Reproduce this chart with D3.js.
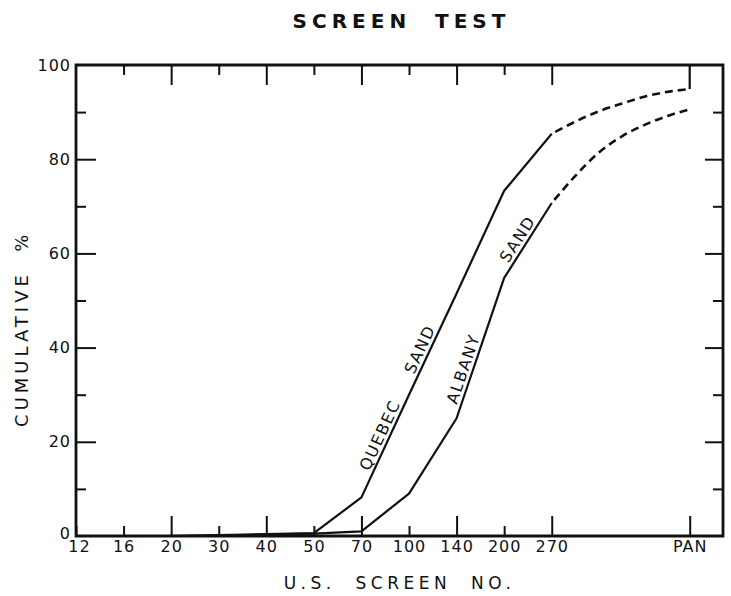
<!DOCTYPE html>
<html>
<head>
<meta charset="utf-8">
<script src="https://cdn.jsdelivr.net/npm/d3@7"></script>
<style>
  body { margin: 0; background: #fff; }
  text { font-family: "DejaVu Sans", sans-serif; fill: #111; }
</style>
</head>
<body>
<script>
// screen sizes along the bottom (PAN sits apart at the right)
const screens = ["12", "16", "20", "30", "40", "50", "70", "100", "140", "200", "270", "PAN"];
const longTicks = ["20", "40", "70", "140", "270", "PAN"];
const pctTicks = [0, 20, 40, 60, 80, 100];
const pctMinor = [10, 30, 50, 70, 90];

// cumulative % on screens 12 .. 270 (solid part)
const quebecPct = [0, 0, 0, 0.2, 0.4, 0.6, 8.2, 30, 51.5, 73.3, 85.4];
const albanyPct = [0, 0, 0, 0.1, 0.3, 0.5, 1.0, 9, 25, 54.8, 70.7];

// dashed tails between 270 and PAN, read as [screen index, %]
const quebecTail = [[10, 85.4], [10.5, 88], [11, 90.2], [11.5, 91.9], [12, 93.4], [12.5, 94.4], [12.9, 94.9]];
const albanyTail = [[10, 70.7], [10.5, 76.5], [11, 81.5], [11.5, 85], [12, 87.5], [12.5, 89.4], [12.9, 90.6]];
const quebecPan = [[12.9, 94.9], [12.9, 100]];

// line labels: text, series, segment between two screen indexes, fraction along it
const lineLabels = [
  {text: "QUEBEC", pts: quebecPct, from: 6, to: 9, t: 0.19},
  {text: "SAND",   pts: quebecPct, from: 6, to: 9, t: 0.47},
  {text: "ALBANY", pts: albanyPct, from: 8, to: 9, t: 0.33},
  {text: "SAND",   pts: albanyPct, from: 9, to: 10, t: 0.45}
];

const W = 731, H = 596;
const margin = {top: 65, left: 76, right: 8, bottom: 60};
const panIndex = 12.9;
const xMax = 13.6;

const svg = d3.select("body").append("svg")
  .attr("width", W).attr("height", H);

const x = d3.scaleLinear().domain([0, xMax]).range([margin.left, W - margin.right]);
const y = d3.scaleLinear().domain([0, 100]).range([H - margin.bottom, margin.top]);
const bottomY = y(0), topY = y(100);

function screenIdx(s) {
  return s === "PAN" ? panIndex : screens.indexOf(s);
}

// title
svg.append("text")
  .attr("x", (x(0) + x(xMax)) / 2 + 2).attr("y", 28)
  .attr("text-anchor", "middle")
  .style("font-size", "20px").style("font-weight", "bold")
  .style("letter-spacing", "5px").attr("xml:space", "preserve")
  .text("SCREEN  TEST");

// x axis at bottom, ticks pointing up
const xAxis = d3.axisBottom(x)
  .tickValues(screens.map(screenIdx))
  .tickFormat((d, i) => screens[i])
  .tickSizeInner(-10).tickSizeOuter(0).tickPadding(5);

const gx = svg.append("g").attr("transform", `translate(0,${bottomY})`).call(xAxis);
gx.select(".domain").remove();
gx.selectAll(".tick line")
  .attr("y2", (d, i) => longTicks.includes(screens[i]) ? -20 : -10)
  .attr("stroke", "#111").attr("stroke-width", 2);
gx.selectAll(".tick text")
  .style("font-size", "16px").style("font-family", "DejaVu Sans")
  .style("letter-spacing", "1px").attr("fill", "#111")
  .attr("dx", (d, i) => i === 0 ? 3 : 0);

// top ticks pointing down (no labels, no PAN)
const xTop = d3.axisTop(x)
  .tickValues(screens.slice(1, 11).map(screenIdx))
  .tickFormat("").tickSizeInner(-10).tickSizeOuter(0);
const gxt = svg.append("g").attr("transform", `translate(0,${topY})`).call(xTop);
gxt.select(".domain").remove();
gxt.selectAll(".tick line")
  .attr("y2", (d, i) => longTicks.includes(screens[i + 1]) ? 20 : 10)
  .attr("stroke", "#111").attr("stroke-width", 2);

// y axis left
const yAxis = d3.axisLeft(y).tickValues(pctTicks).tickSizeInner(-20).tickSizeOuter(0).tickPadding(5);
const gy = svg.append("g").attr("transform", `translate(${x(0)},0)`).call(yAxis);
gy.select(".domain").remove();
gy.selectAll(".tick line").attr("stroke", "#111").attr("stroke-width", 2)
  .attr("x2", d => (d === 0 || d === 100) ? 0 : 20);
gy.selectAll(".tick text").style("font-size", "16px").style("font-family", "DejaVu Sans")
  .style("letter-spacing", "1px").attr("fill", "#111")
  .attr("y", d => d === 0 ? -3 : 0);

const gyMinor = svg.append("g").attr("transform", `translate(${x(0)},0)`)
  .call(d3.axisLeft(y).tickValues(pctMinor).tickFormat("").tickSizeInner(-10).tickSizeOuter(0));
gyMinor.select(".domain").remove();
gyMinor.selectAll(".tick line").attr("stroke", "#111").attr("stroke-width", 2);

// y axis right, ticks pointing in
const gyr = svg.append("g").attr("transform", `translate(${x(xMax)},0)`)
  .call(d3.axisRight(y).tickValues(pctTicks.slice(1, 5)).tickFormat("").tickSizeInner(-18).tickSizeOuter(0));
gyr.select(".domain").remove();
gyr.selectAll(".tick line").attr("stroke", "#111").attr("stroke-width", 2);
const gyr2 = svg.append("g").attr("transform", `translate(${x(xMax)},0)`)
  .call(d3.axisRight(y).tickValues(pctMinor).tickFormat("").tickSizeInner(-10).tickSizeOuter(0));
gyr2.select(".domain").remove();
gyr2.selectAll(".tick line").attr("stroke", "#111").attr("stroke-width", 2);

// frame
svg.append("path")
  .attr("d", `M${x(0)},${topY}H${x(xMax)}V${bottomY}H${x(0)}Z`)
  .attr("fill", "none").attr("stroke", "#111").attr("stroke-width", 2.8);

// axis titles
svg.append("text")
  .attr("transform", `translate(28,${y(44)}) rotate(-90)`)
  .attr("text-anchor", "middle")
  .style("font-size", "18px").style("letter-spacing", "4px").attr("xml:space", "preserve")
  .text("CUMULATIVE  %");

svg.append("text")
  .attr("x", (x(0) + x(xMax)) / 2).attr("y", 589)
  .attr("text-anchor", "middle")
  .style("font-size", "17px").style("letter-spacing", "4.5px").attr("xml:space", "preserve")
  .text("U.S.  SCREEN  NO.");

// curves
const line = d3.line().x(d => x(d[0])).y(d => y(d[1]));
const curve = d3.line().x(d => x(d[0])).y(d => y(d[1])).curve(d3.curveMonotoneX);

[quebecPct, albanyPct].forEach(series => {
  svg.append("path")
    .datum(series.map((v, i) => [i, v]))
    .attr("d", line)
    .attr("fill", "none").attr("stroke", "#111").attr("stroke-width", 2.2)
    .attr("stroke-linejoin", "round");
});

[quebecTail, albanyTail].forEach(series => {
  svg.append("path")
    .datum(series)
    .attr("d", curve)
    .attr("fill", "none").attr("stroke", "#111").attr("stroke-width", 2.6)
    .attr("stroke-dasharray", "8,5").attr("stroke-dashoffset", -4);
});

svg.append("path").datum(quebecPan).attr("d", line)
  .attr("fill", "none").attr("stroke", "#111").attr("stroke-width", 2.2);

// labels along the lines
lineLabels.forEach(l => {
  const x0 = x(l.from), y0 = y(l.pts[l.from]);
  const x1 = x(l.to), y1 = y(l.pts[l.to]);
  const px = x0 + (x1 - x0) * l.t, py = y0 + (y1 - y0) * l.t;
  const ang = Math.atan2(y1 - y0, x1 - x0) * 180 / Math.PI;
  svg.append("text")
    .attr("transform", `translate(${px},${py}) rotate(${ang})`)
    .attr("text-anchor", "middle").attr("dy", -4)
    .style("font-size", "16px").style("letter-spacing", "1.5px")
    .text(l.text);
});
</script>
</body>
</html>
